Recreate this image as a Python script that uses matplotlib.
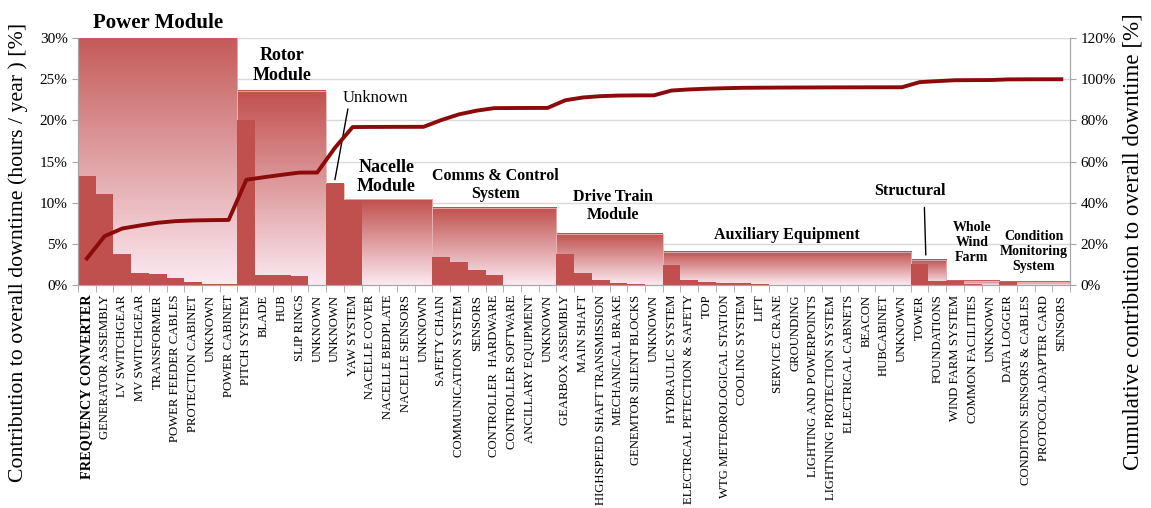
import numpy as np
import matplotlib.pyplot as plt
from matplotlib.colors import LinearSegmentedColormap
from matplotlib.patches import Rectangle

plt.rcParams['font.family'] = 'Liberation Serif'

labels = [
    'FREQUENCY CONVERTER', 'GENERATOR ASSEMBLY', 'LV SWITCHGEAR', 'MV SWITCHGEAR', 'TRANSFORMER',
    'POWER FEEDER CABLES', 'PROTECTION CABINET', 'UNKNOWN', 'POWER CABINET',
    'PITCH SYSTEM', 'BLADE', 'HUB', 'SLIP RINGS', 'UNKNOWN',
    'UNKNOWN',
    'YAW SYSTEM', 'NACELLE COVER', 'NACELLE BEDPLATE', 'NACELLE SENSORS', 'UNKNOWN',
    'SAFETY CHAIN', 'COMMUNICATION SYSTEM', 'SENSORS', 'CONTROLLER  HARDWARE', 'CONTROLLER SOFTWARE',
    'ANCILLARY EQUIPMENT', 'UNKNOWN',
    'GEARBOX ASSEMBLY', 'MAIN SHAFT', 'HIGHSPEED SHAFT TRANSMISSION', 'MECHANICAL BRAKE',
    'GENEMTOR SILENT BLOCKS', 'UNKNOWN',
    'HYDRAULIC SYSTEM', 'ELECTRCAL PETECTION & SAFETY', 'TOP', 'WTG METEOROLOGICAL STATION',
    'COOLING SYSTEM', 'LIFT', 'SERVICE CRANE', 'GROUNDING', 'LIGHTING AND POWERPOINTS',
    'LIGHTNING PROTECTION SYSTEM', 'ELECTRICAL CABNETS', 'BEACON', 'HUBCABINET', 'UNKNOWN',
    'TOWER', 'FOUNDATIONS',
    'WIND FARM SYSTEM', 'COMMON FACILITIES', 'UNKNOWN',
    'DATA LOGGER', 'CONDITON SENSORS & CABLES', 'PROTOCOL ADAPTER CARD', 'SENSORS',
]
values = [
    13.2, 11.1, 3.8, 1.5, 1.35, 0.8, 0.35, 0.15, 0.1,
    20.0, 1.25, 1.2, 1.1, 0.05,
    12.3,
    10.3, 0.05, 0.03, 0.02, 0.02,
    3.35, 2.85, 1.85, 1.25, 0.05, 0.03, 0.02,
    3.8, 1.4, 0.65, 0.3, 0.08, 0.02,
    2.4, 0.55, 0.35, 0.25, 0.2, 0.06, 0.05, 0.04, 0.03, 0.03, 0.02, 0.02, 0.01, 0.01,
    2.55, 0.5,
    0.45, 0.06, 0.03,
    0.33, 0.04, 0.02, 0.01,
]
groups = ['Power Module', 'Rotor\nModule', 'Unknown', 'Nacelle\nModule', 'Comms & Control\nSystem',
          'Drive Train\nModule', 'Auxiliary Equipment', 'Structural', 'Whole\nWind\nFarm',
          'Condition\nMonitoring\nSystem']
group_sizes = [9, 5, 1, 5, 7, 6, 14, 2, 3, 4]

x = np.arange(len(values))
cum = np.cumsum(values) / np.sum(values) * 100
starts = np.concatenate([[0], np.cumsum(group_sizes)[:-1]])
group_totals = [sum(values[s:s + n]) for s, n in zip(starts, group_sizes)]

fig = plt.figure(figsize=(11.51, 5.08), dpi=100)
ax = fig.add_axes([0.0678, 0.439, 0.862, 0.486])

# gradient blocks for each module total
cmap = LinearSegmentedColormap.from_list('blk', ['#FCEAF2', '#C0504D'])
grad = np.linspace(0, 1, 256).reshape(-1, 1)
for s, n, tot in zip(starts, group_sizes, group_totals):
    rect = Rectangle((s - 0.5, 0), n, tot, facecolor='none', edgecolor='#E9B3B3', lw=0.6, zorder=1.1)
    ax.add_patch(rect)
    im = ax.imshow(grad, cmap=cmap, origin='lower', extent=[s - 0.5, s + n - 0.5, 0, tot],
                   aspect='auto', zorder=1)
    im.set_clip_path(rect)
    im.set_clip_box(ax.bbox)

ax.bar(x, values, width=1.0, color='#C0504D', zorder=2)

ax.set_xlim(-0.5, len(values) - 0.5)
ax.set_ylim(0, 30)
ax.set_xticks(x)
ax.set_xticklabels(labels, rotation=90, fontsize=9.2)
ax.set_xticks(np.arange(-0.5, len(values)), minor=True)
ax.tick_params(axis='x', which='major', length=0, pad=7)
ax.tick_params(axis='x', which='minor', length=5, color='#A6A6A6')
lab0 = ax.get_xticklabels()[0]
lab0.set_fontweight('bold')
lab0.set_fontsize(10.3)
ax.set_yticks(np.arange(0, 31, 5))
ax.set_yticklabels([f'{v}%' for v in range(0, 31, 5)], fontsize=11)
ax.tick_params(axis='y', length=4, color='#A6A6A6')
ax.yaxis.grid(True, color='#D9D9D9', lw=1)
ax.set_axisbelow(True)
ax.spines['top'].set_visible(False)
for sp in ['left', 'bottom', 'right']:
    ax.spines[sp].set_color('#A6A6A6')

ax2 = ax.twinx()
ax2.plot(x, cum, color='#8B0A0A', lw=2.8, zorder=5)
ax2.set_ylim(0, 120)
ax2.set_yticks(np.arange(0, 121, 20))
ax2.set_yticklabels([f'{v}%' for v in range(0, 121, 20)], fontsize=11)
ax2.tick_params(axis='y', length=4, color='#A6A6A6')
ax2.spines['top'].set_visible(False)
for sp in ['left', 'bottom', 'right']:
    ax2.spines[sp].set_color('#A6A6A6')

# axis titles, sized to span the same height as in the original
ylab_l = fig.text(18 / 1151, 1 - 252 / 508, 'Contribution to overall downtime (hours / year ) [%]',
                  rotation=90, ha='center', va='center', fontsize=13)
ylab_r = fig.text(1133 / 1151, 1 - 242 / 508, 'Cumulative contribution to overall downtime [%]',
                  rotation=90, ha='center', va='center', fontsize=13)
fig.canvas.draw()
rend = fig.canvas.get_renderer()
for t in (ylab_l, ylab_r):
    h = t.get_window_extent(rend).height
    t.set_fontsize(t.get_fontsize() * 455 / h)

# module labels
label_pos = {
    'Power Module': (4.0, 31.8, 15),
    'Rotor\nModule': (11.0, 26.7, 13),
    'Nacelle\nModule': (16.9, 13.1, 13),
    'Comms & Control\nSystem': (23.06, 12.15, 11.5),
    'Drive Train\nModule': (29.7, 9.6, 11.5),
    'Auxiliary Equipment': (39.5, 6.1, 11.5),
    'Whole\nWind\nFarm': (49.95, 5.2, 10),
    'Condition\nMonitoring\nSystem': (53.45, 4.1, 10),
}
for g, (gx, gy, fs) in label_pos.items():
    ax.text(gx, gy, g, ha='center', va='center', fontsize=fs, fontweight='bold',
            linespacing=1.2, zorder=6)

ax.annotate('Unknown', xy=(14.0, 12.8), xytext=(16.3, 22.7), ha='center', va='center',
            fontsize=12, zorder=6,
            arrowprops=dict(arrowstyle='-', color='black', lw=1, relpos=(0.09, 0.15),
                            shrinkA=0, shrinkB=0))
ax.annotate('Structural', xy=(47.35, 3.65), xytext=(46.45, 11.4), ha='center', va='center',
            fontsize=11.5, fontweight='bold', zorder=6,
            arrowprops=dict(arrowstyle='-', color='black', lw=1, relpos=(0.7, 0),
                            shrinkA=4, shrinkB=0))

fig.savefig('out.png', dpi=100)
